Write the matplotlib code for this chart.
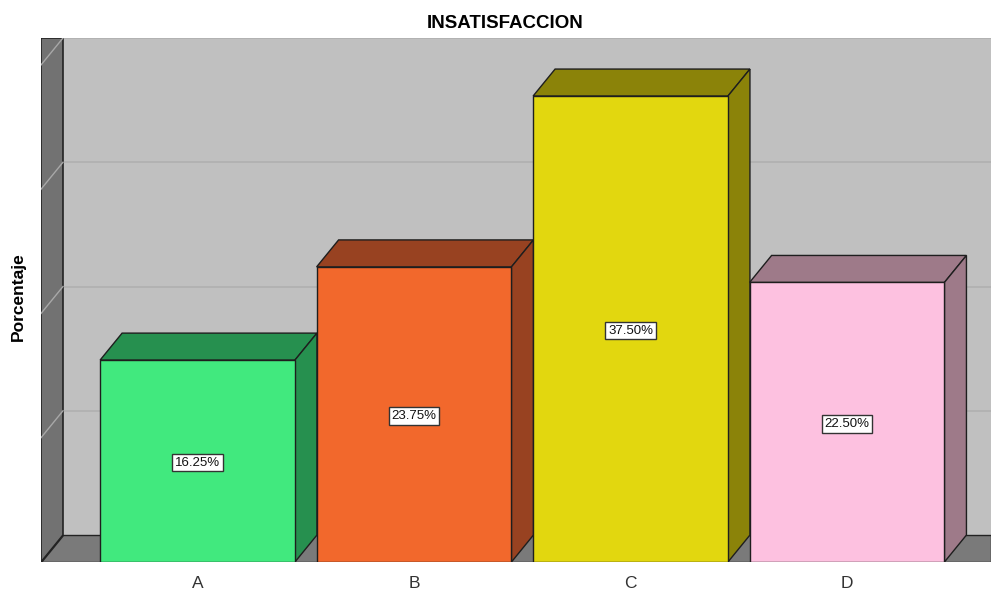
import matplotlib.pyplot as plt
from matplotlib.patches import Polygon, Rectangle

plt.rcParams['font.family'] = ['Liberation Sans', 'DejaVu Sans']

# category data
categories = ['A', 'B', 'C', 'D']
percent = [16.25, 23.75, 37.50, 22.50]
front_colors = ['#41E97E', '#F2682C', '#E2D70F', '#FDC1E0']
shade_colors = ['#26904F', '#984221', '#8B8309', '#9E7A89']
grid_values = [10, 20, 30, 40]

# 3D look: depth offset in data units
DX = 0.1016
DY = 2.17
WIDTH = 0.9
X_LEFT, X_RIGHT = -0.723, 3.665
WALL_TOP = 40 + DY

fig = plt.figure(figsize=(9.91, 5.94), dpi=100)
ax = fig.add_axes([41 / 991, 32 / 594, 950 / 991, 524 / 594])
ax.set_xlim(X_LEFT, X_RIGHT)
ax.set_ylim(0, WALL_TOP)
for s in ax.spines.values():
    s.set_visible(False)
ax.set_yticks([])
ax.set_xticks(range(len(categories)))
ax.set_xticklabels(categories, fontsize=12.5, color='#333333')
ax.tick_params(axis='x', length=0, pad=10)

# back wall, left wall and floor
ax.add_patch(Rectangle((X_LEFT + DX, DY), X_RIGHT - X_LEFT - DX, 40,
                       facecolor='#C0C0C0', edgecolor='none', zorder=0))
ax.add_patch(Polygon([(X_LEFT, 0), (X_LEFT + DX, DY), (X_LEFT + DX, WALL_TOP),
                      (X_LEFT, WALL_TOP)], closed=True,
                     facecolor='#727272', edgecolor='#222222', lw=1.2, zorder=1))
ax.add_patch(Polygon([(X_LEFT, 0), (X_RIGHT, 0), (X_RIGHT, DY), (X_LEFT + DX, DY)],
                     closed=True, facecolor='#7A7A7A', edgecolor='#222222',
                     lw=1.0, zorder=1))
for g in grid_values:
    ax.plot([X_LEFT + DX, X_RIGHT], [g + DY, g + DY], color='#B0B0B0', lw=1.2, zorder=0.5)
    ax.plot([X_LEFT, X_LEFT + DX], [g, g + DY], color='#A8A8A8', lw=1.0, zorder=1.5)

# bars with top and side faces
for i, (v, fc, sc) in enumerate(zip(percent, front_colors, shade_colors)):
    x0 = i - WIDTH / 2
    x1 = i + WIDTH / 2
    ax.add_patch(Polygon([(x0, v), (x1, v), (x1 + DX, v + DY), (x0 + DX, v + DY)],
                         closed=True, facecolor=sc, edgecolor='#1E1E1E', lw=1.0, zorder=3))
    ax.add_patch(Polygon([(x1, 0), (x1 + DX, DY), (x1 + DX, v + DY), (x1, v)],
                         closed=True, facecolor=sc, edgecolor='#1E1E1E', lw=1.0, zorder=3))
    ax.add_patch(Rectangle((x0, 0), WIDTH, v, facecolor=fc, edgecolor='#1E1E1E',
                           lw=1.0, zorder=4))
    ax.text(i, v / 2, f'{v:.2f}%', ha='center', va='center_baseline', fontsize=9.5,
            zorder=5, color='#111111',
            bbox=dict(boxstyle='square,pad=0.22', facecolor='white',
                      edgecolor='#333333', lw=1.0))

fig.text(505 / 991, 1 - 23 / 594, 'INSATISFACCION', ha='center', va='center',
         fontsize=13.5, fontweight='bold')
fig.text(18 / 991, 1 - 297 / 594, 'Porcentaje', ha='center', va='center',
         rotation=90, fontsize=12.5, fontweight='bold')

fig.savefig('out.png', dpi=100)
